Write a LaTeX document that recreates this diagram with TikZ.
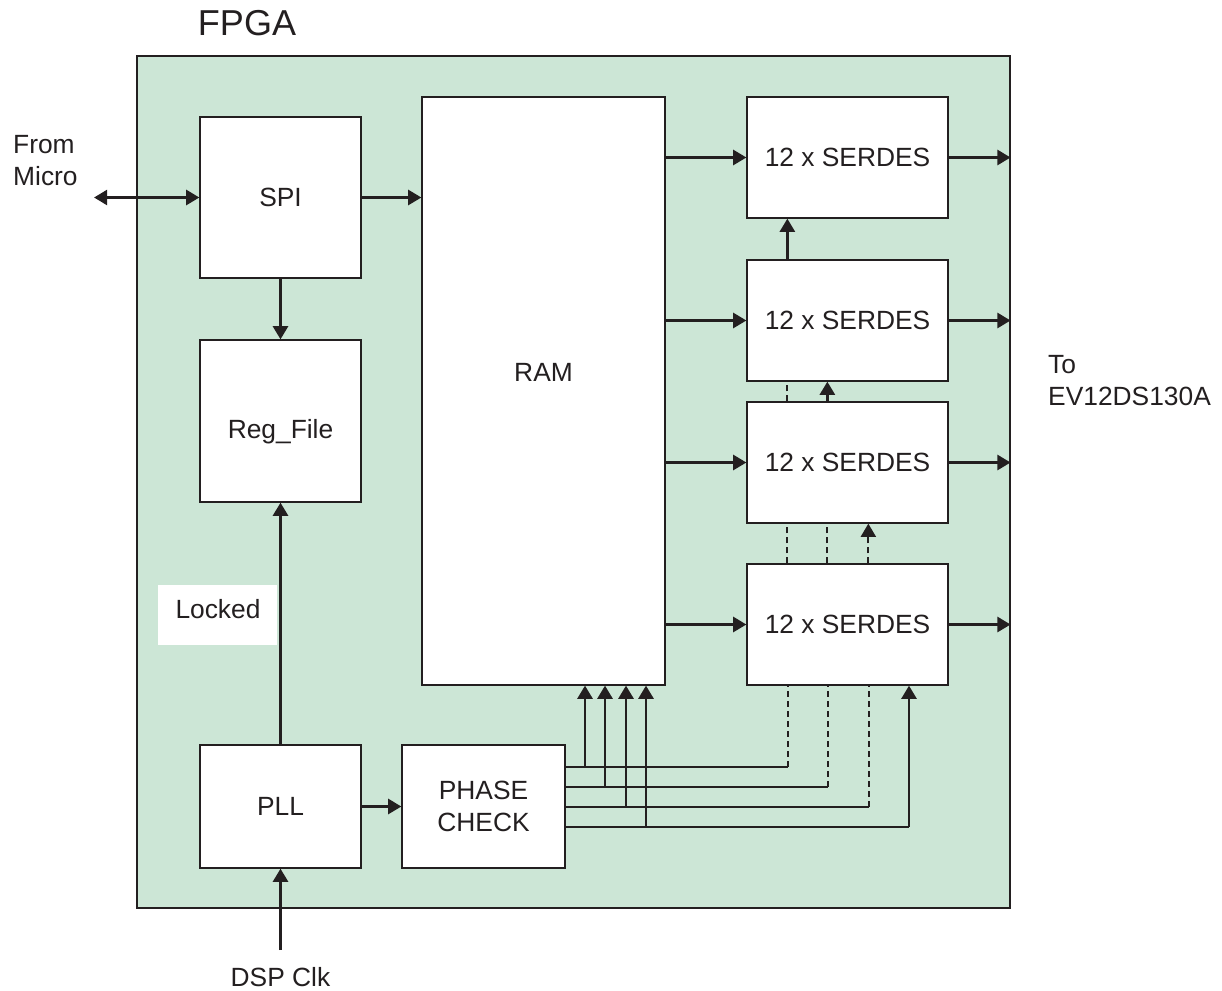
\documentclass[tikz,border=0pt]{standalone}
\usepackage{fontspec}
\setmainfont{Liberation Sans}
\usetikzlibrary{arrows.meta,calc}
\definecolor{fpgagreen}{RGB}{204,230,214}
\definecolor{ink}{RGB}{35,31,32}
\begin{document}
\begin{tikzpicture}[x=0.02cm,y=-0.02cm,
 every node/.style={font=\fontsize{15}{18}\selectfont, text=ink},
 blk/.style={draw=ink, line width=0.75pt, fill=white, inner sep=0pt},
 serd/.style={blk, minimum width=4.02cm, minimum height=2.42cm},
 arr/.style={draw=ink, line width=1.6pt, -{Triangle[length=7.5pt,width=8.5pt]}},
 dblarr/.style={draw=ink, line width=1.6pt, {Triangle[length=7.5pt,width=8.5pt]}-{Triangle[length=7.5pt,width=8.5pt]}},
 thinl/.style={draw=ink, line width=0.7pt},
 dashl/.style={draw=ink, line width=1.2pt, dash pattern=on 3.4pt off 2.3pt}]
\useasboundingbox (0,0) rectangle (1222,990);
% FPGA outline
\node[draw=ink, line width=0.75pt, fill=fpgagreen, minimum width=17.46cm, minimum height=17.04cm, inner sep=0pt] (fpga) at (573.5,482) {};
\node[font=\fontsize{20.5}{24}\selectfont, anchor=base] (title) at (247,36) {FPGA};
% blocks
\node[blk, minimum width=3.22cm, minimum height=3.22cm] (spi) at (280.5,197.5) {SPI};
\node[blk, minimum width=3.22cm, minimum height=3.24cm] (reg) at (280.5,421) {};
\node (reglabel) at (280.5,432) {Reg\_File};
\node[blk, minimum width=3.22cm, minimum height=2.46cm] (pll) at (280.5,806.5) {PLL};
\node[blk, minimum width=3.26cm, minimum height=2.46cm, align=center] (phase) at (483.5,806.5) {PHASE\\CHECK};
\node[blk, minimum width=4.86cm, minimum height=11.76cm] (ram) at (543.5,391) {};
\node (ramlabel) at (543.5,372) {RAM};
\node[serd] (s1) at (847.5,157.5) {12 x SERDES};
\node[serd] (s2) at (847.5,320.5) {12 x SERDES};
\node[serd] (s3) at (847.5,462.5) {12 x SERDES};
\node[serd] (s4) at (847.5,624.5) {12 x SERDES};
% Locked label
\node[fill=white, minimum width=2.38cm, minimum height=1.2cm, inner sep=0pt] (locked) at (217.5,615) {};
\node (lockedtext) at (218,609) {Locked};
% outside texts
\node[anchor=base west] (from) at (7,153) {From};
\node[anchor=base west] (micro) at (7,185) {Micro};
\node[anchor=base west] (to) at (1042,373) {To};
\node[anchor=base west] (ev) at (1042,405) {EV12DS130A};
\node[anchor=base] (dsptext) at (280.5,986) {DSP Clk};
\coordinate (microend) at (94,197.5);
\coordinate (dsp) at (280.5,950);
% connectors
\draw[dblarr] (microend) -- (spi.west);
\draw[arr] (dsp) -- (pll.south);
\draw[arr] (spi.east) -- (spi.east -| ram.west);
\draw[arr] (spi.south) -- (reg.north);
\draw[arr] (pll.north) -- (reg.south);
\draw[arr] (pll.east) -- (phase.west);
\foreach \s in {s1,s2,s3,s4}{
  \draw[arr] (\s.west -| ram.east) -- (\s.west);
  \draw[arr] (\s.east) -- (\s.east -| fpga.east);
}
% between SERDES
\draw[arr] ([xshift=0.82cm]s2.north west) -- ([xshift=0.82cm]s1.south west);
\draw[dashl] ([xshift=0.82cm]s3.north west) -- ([xshift=0.82cm]s2.south west);
\draw[arr] ([xshift=1.62cm]s3.north west) -- ([xshift=1.62cm]s2.south west);
\draw[dashl] ([xshift=0.82cm]s4.north west) -- ([xshift=0.82cm]s3.south west);
\draw[dashl] ([xshift=1.62cm]s4.north west) -- ([xshift=1.62cm]s3.south west);
\draw[arr, dashl] ([xshift=2.44cm]s4.north west) -- ([xshift=2.44cm]s3.south west);
% phase check bus
\coordinate (ja) at (585,767); \coordinate (ka) at (788,767);
\coordinate (jb) at (605,787); \coordinate (kb) at (828,787);
\coordinate (jc) at (626,807); \coordinate (kc) at (869,807);
\coordinate (jd) at (646,827); \coordinate (kd) at (909,827);
\draw[thinl] (phase.east |- ja) -- (ka);
\draw[thinl] (phase.east |- jb) -- (kb);
\draw[thinl] (phase.east |- jc) -- (kc);
\draw[thinl] (phase.east |- jd) -- (kd);
\draw[arr] (ja) -- (ja |- ram.south);
\draw[arr] (jb) -- (jb |- ram.south);
\draw[arr] (jc) -- (jc |- ram.south);
\draw[arr] (jd) -- (jd |- ram.south);
\draw[dashl] (ka) -- (ka |- s4.south);
\draw[dashl] (kb) -- (kb |- s4.south);
\draw[dashl] (kc) -- (kc |- s4.south);
\draw[arr] (kd) -- (kd |- s4.south);
\end{tikzpicture}
\end{document}
